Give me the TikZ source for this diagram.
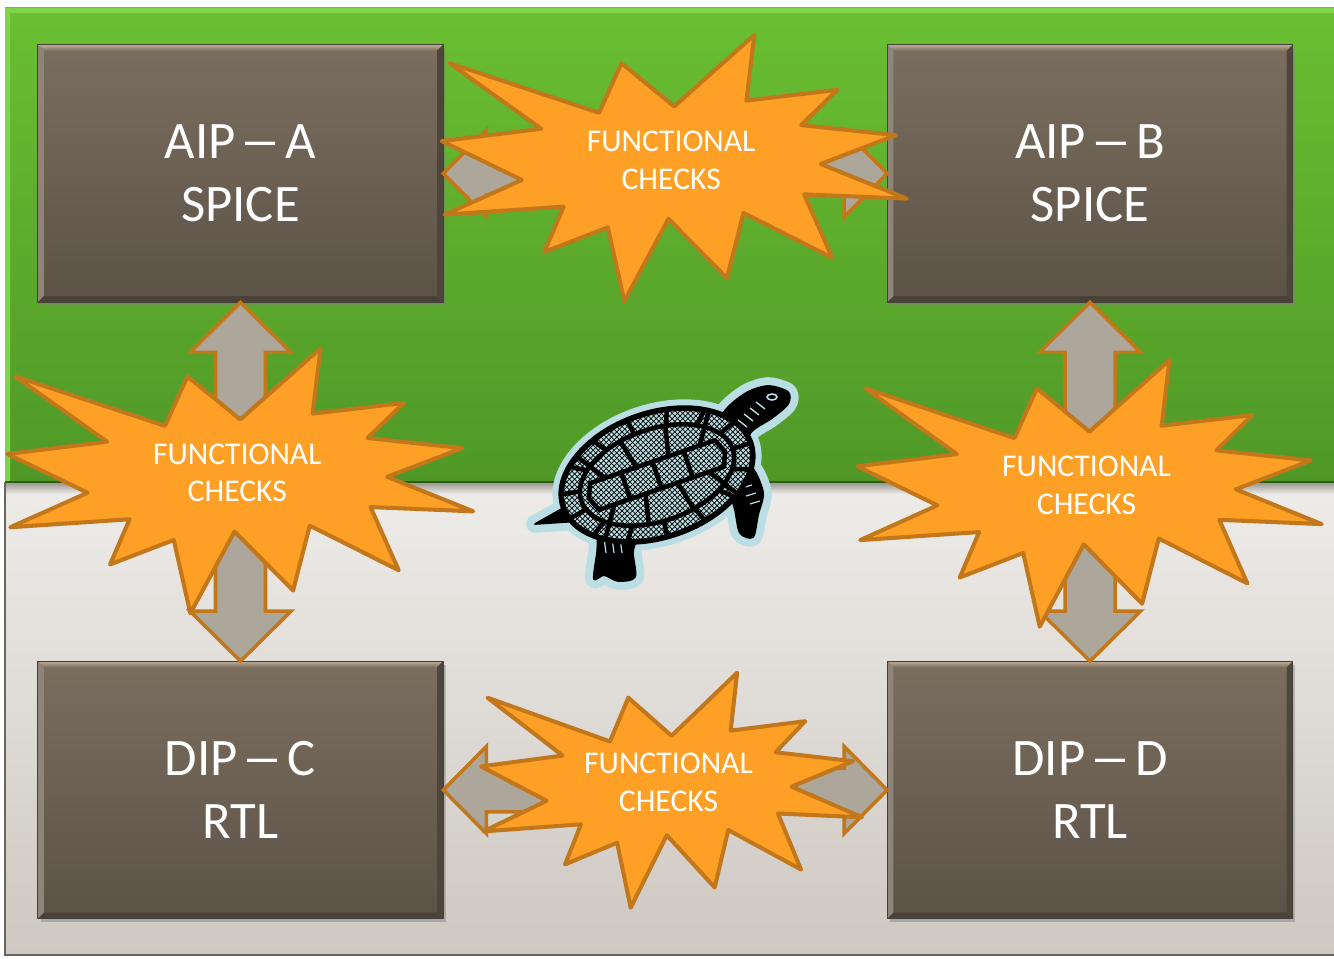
\documentclass[tikz,border=0pt]{standalone}
\usepackage{graphicx}
\usepackage{fontspec}
\setmainfont{Carlito}
\usetikzlibrary{calc,shadows,patterns}

\definecolor{greentop}{RGB}{106,191,49}
\definecolor{greenbottom}{RGB}{79,152,39}
\definecolor{greenhilite}{RGB}{128,212,72}
\definecolor{graytop}{RGB}{238,236,233}
\definecolor{graybottom}{RGB}{206,200,193}
\definecolor{boxtop}{RGB}{122,110,95}
\definecolor{boxbottom}{RGB}{92,82,70}
\definecolor{boxedge}{RGB}{68,63,56}
\definecolor{burstfill}{RGB}{255,160,38}
\definecolor{burstline}{RGB}{194,119,26}
\definecolor{arrowgray}{RGB}{173,166,155}
\definecolor{turtleglow}{RGB}{186,222,227}

% a longer dash for the block titles
\newcommand{\wdash}{\kern-0.15em\scalebox{1.6}[1]{–}\kern-0.15em}

\tikzset{
  ipbox/.style={rectangle, minimum width=8.1cm, minimum height=5.14cm,
    top color=boxtop, bottom color=boxbottom, text=white, align=center,
    font=\fontsize{30}{36}\selectfont,
    drop shadow={shadow xshift=1.5pt, shadow yshift=-2pt, opacity=0.45}},
  blockarrow/.style={fill=arrowgray, draw=burstline, line width=2pt, line join=miter},
  burstshape/.style={fill=burstfill, draw=burstline, line width=2.3pt, line join=round},
  bursttext/.style={text=white, align=center, font=\fontsize{18}{21.5}\selectfont},
  ink/.style={black, line width=#1, line cap=round},
}

% left/right block arrow between two anchors
\newcommand{\hdarrow}[2]{%
  \draw[blockarrow] (#1) -- ++(43,-43.5) -- ++(0,21.75) -- ($(#2)+(-43,-21.75)$)
    -- ++(0,-21.75) -- (#2) -- ++(-43,43.5) -- ++(0,-21.75)
    -- ($(#1)+(43,21.75)$) -- ++(0,21.75) -- cycle;}
% up/down block arrow between two anchors
\newcommand{\vdarrow}[2]{%
  \draw[blockarrow] (#1) -- ++(50.5,50) -- ++(-25.5,0) -- ($(#2)+(25,-50)$)
    -- ++(25.5,0) -- (#2) -- ++(-50.5,-50) -- ++(25.5,0)
    -- ($(#1)+(-25,50)$) -- ++(-25.5,0) -- cycle;}
% explosion with its label: name, left, top, width, height
\newcommand{\burst}[5]{%
  \begin{scope}[shift={(#2,#3)}, xscale=#4/1000, yscale=#5/1000]
    \draw[burstshape] (500,268.5) -- (672.3,0) -- (655.3,246.5) -- (850.9,206.3)
      -- (773.2,338.7) -- (976.7,376.7) -- (815.1,485) -- (1000,615.3)
      -- (779.5,599.2) -- (840,837.7) -- (649.1,669.3) -- (613.3,913.8)
      -- (487.6,691.4) -- (392.8,1000) -- (357.2,723.5) -- (220.5,815.6)
      -- (262.4,645.2) -- (6.3,675.3) -- (172.3,545.1) -- (0,398.8)
      -- (214.2,352.6) -- (17.1,106.3) -- (338.5,292.6) -- (386.7,106.3) -- cycle;
  \end{scope}
  \node[bursttext] (#1) at ({#2+#4/2-3},{#3+#5/2-8}) {FUNCTIONAL\\CHECKS};}
% head, legs and tail of the turtle
\newcommand{\turtlelimbs}{%
  plot[smooth cycle] coordinates {(714,442) (724,412) (746,393) (768,386) (788,392)
    (788,404) (772,418) (752,431) (740,449)}
  plot[smooth cycle] coordinates {(728,478) (750,466) (763,492) (758,515) (753,537)
    (740,533) (735,510)}
  plot[smooth cycle] coordinates {(602,522) (637,527) (633,552) (635,577) (618,581)
    (604,575) (594,579) (597,553)}
  (574,502) -- (535,524) -- (580,521) -- cycle}

\begin{document}
\begin{tikzpicture}[x=0.02cm, y=-0.02cm]
  \useasboundingbox (0,0) rectangle (1334,959);
  \fill[white] (0,0) rectangle (1334,959);

  % the two panels
  \shade[top color=greentop, bottom color=greenbottom] (5,8) rectangle (1334,482);
  \fill[greenhilite] (5,8) -- (1334,8) -- (1334,13) -- (10,13) -- (10,482) -- (5,482) -- cycle;
  \shade[top color=graytop, bottom color=graybottom] (5,482) rectangle (1334,955);
  \shade[top color={rgb,255:red,150;green,146;blue,140}, bottom color=graytop] (5,482) rectangle (1334,494);
  \draw[greenbottom!60!black, line width=0.8pt] (5,482) -- (1334,482);
  \draw[boxedge!80, line width=0.8pt] (5,482) -- (5,955) -- (1334,955);

  % blocks
  \node[ipbox] (A) at (240.5,173.5) {AIP \wdash{} A\\SPICE};
  \node[ipbox] (B) at (1090,173.5) {AIP \wdash{} B\\SPICE};
  \node[ipbox] (C) at (240.5,790) {DIP \wdash{} C\\RTL};
  \node[ipbox] (D) at (1090,790) {DIP \wdash{} D\\RTL};

  % bevelled edges
  \foreach \b in {A,B,C,D} {
    \shade[top color={rgb,255:red,192;green,174;blue,152}, bottom color=boxtop]
      (\b.north west) -- (\b.north east) -- ([shift={(-3.5pt,-3.5pt)}]\b.north east)
      -- ([shift={(3.5pt,-3.5pt)}]\b.north west) -- cycle;
    \fill[boxtop!85!white] (\b.north west) -- ([shift={(3.5pt,-3.5pt)}]\b.north west)
      -- ([shift={(3.5pt,3.5pt)}]\b.south west) -- (\b.south west) -- cycle;
    \fill[boxbottom!80!black] (\b.south west) -- ([shift={(3.5pt,3.5pt)}]\b.south west)
      -- ([shift={(-3.5pt,3.5pt)}]\b.south east) -- (\b.south east) -- cycle;
    \fill[boxbottom!85!black] (\b.north east) -- ([shift={(-3.5pt,-3.5pt)}]\b.north east)
      -- ([shift={(-3.5pt,3.5pt)}]\b.south east) -- (\b.south east) -- cycle;
    \draw[boxedge, line width=0.6pt] (\b.north west) rectangle (\b.south east);
  }

  % arrows, then the explosions on top
  \hdarrow{A.east}{B.west}
  \hdarrow{C.east}{D.west}
  \vdarrow{A.south}{C.north}
  \vdarrow{B.south}{D.north}

  \burst{fcab}{441.7}{35}{465}{266}
  \burst{fcac}{7.3}{348.3}{466}{265}
  \burst{fcbd}{857.3}{360}{464.4}{266.7}
  \burst{fccd}{481}{672.7}{381}{235}

  % turtle: pale halo first, then the ink
  \filldraw[turtleglow, line width=10pt, line join=round] \turtlelimbs;
  \begin{scope}[shift={(657,475)}, rotate=19]
    \filldraw[turtleglow, line width=10pt] (0,0) ellipse [x radius=99, y radius=62];
  \end{scope}
  \filldraw[black, line width=1pt, line join=round] \turtlelimbs;
  \draw[turtleglow, line width=0.9pt] (772,397) ellipse [x radius=5, y radius=3];
  \foreach \i in {0,...,5}
    \draw[turtleglow, line width=0.8pt] (726+6*\i,432-6*\i) -- ++(9,7);
  \foreach \i in {0,1,2}
    \draw[turtleglow, line width=0.7pt] (742+4*\i,488+8*\i) -- ++(10,-3)
      (604+8*\i,538) -- ++(2,15);
  \begin{scope}[shift={(657,475)}, rotate=19]
    \fill[turtleglow] (0,0) ellipse [x radius=99, y radius=62];
    \fill[pattern=crosshatch, pattern color=black] (0,0) ellipse [x radius=99, y radius=62];
    \draw[ink=3.2pt] (0,0) ellipse [x radius=99, y radius=62];
    \draw[ink=2.6pt] (0,0) ellipse [x radius=80, y radius=46];
    \foreach \a in {0,24,...,336}
      \draw[ink=2.6pt] (\a:80 and 46) -- (\a:99 and 62);
    \draw[ink=2.6pt] (-66,-14) -- (66,-14) (-66,14) -- (66,14)
      (-66,-14) -- (-72,0) -- (-66,14) (66,-14) -- (72,0) -- (66,14);
    \foreach \x in {-33,0,33}
      \draw[ink=2.6pt] (\x,-14) -- (\x,14);
    \foreach \x in {-50,-17,17,50}
      \draw[ink=2.6pt] (\x,-14) -- (\x+2*\x/5,-44) (\x,14) -- (\x+2*\x/5,44);
  \end{scope}
\end{tikzpicture}
\end{document}
